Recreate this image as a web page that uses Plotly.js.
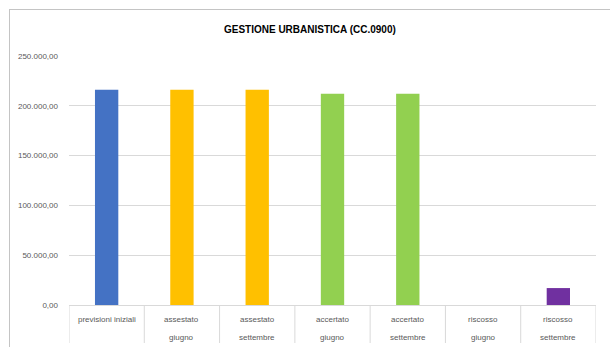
<!DOCTYPE html>
<html>
<head>
<meta charset="utf-8">
<script src="https://cdn.plot.ly/plotly-3.0.1.min.js"></script>
<style>
html,body{margin:0;padding:0;background:#fff;}
#wrap{position:relative;width:610px;height:347px;overflow:hidden;}
#frame{position:absolute;left:9px;top:9px;width:700px;height:400px;border-left:1.5px solid #c4c4c4;border-top:1.5px solid #c4c4c4;pointer-events:none;z-index:2;}
#chart{position:absolute;left:0;top:0;width:610px;height:347px;}
</style>
</head>
<body>
<div id="wrap"><div id="chart"></div><div id="frame"></div></div>
<script>
var categories = ["previsioni iniziali", "assestato giugno", "assestato settembre", "accertato giugno", "accertato settembre", "riscosso giugno", "riscosso settembre"];
var labelLine1 = ["previsioni iniziali", "assestato", "assestato", "accertato", "accertato", "riscosso", "riscosso"];
var labelLine2 = ["", "giugno", "settembre", "giugno", "settembre", "giugno", "settembre"];
var values = [216000, 216000, 216000, 212000, 212000, 0, 17000];
var colors = ["#4472C4", "#FFC000", "#FFC000", "#92D050", "#92D050", "#7030A0", "#7030A0"];
var yTicks = [0, 50000, 100000, 150000, 200000, 250000];

var trace = {
  type: "bar",
  x: categories,
  y: values,
  marker: {color: colors, line: {width: 0}},
  hoverinfo: "none"
};

var plotH = 249;
var annotations = [];
var shapes = [];
categories.forEach(function(c, i){
  annotations.push({xref:"x", yref:"paper", x:c, y:-14/plotH, text:labelLine1[i], showarrow:false, yanchor:"middle", xanchor:"center", font:{family:"Liberation Sans, Arial, sans-serif", size:8, color:"#595959"}});
  if (labelLine2[i]) annotations.push({xref:"x", yref:"paper", x:c, y:-32/plotH, text:labelLine2[i], showarrow:false, yanchor:"middle", xanchor:"center", font:{family:"Liberation Sans, Arial, sans-serif", size:8, color:"#595959"}});
});
for (var k = 0; k <= categories.length; k++) {
  shapes.push({type:"line", xref:"x", yref:"paper", x0:k-0.5, x1:k-0.5, y0:0, y1:-38/plotH, line:{color:"#d9d9d9", width:1}});
}

var layout = {
  width: 610, height: 347,
  margin: {l:69, r:14, t:56, b:42, pad:0},
  paper_bgcolor: "#ffffff", plot_bgcolor: "#ffffff",
  separators: ",.",
  showlegend: false,
  bargap: 0.69,
  title: {text: "<b>GESTIONE URBANISTICA (CC.0900)</b>", x: 0.508, xref: "container", xanchor: "center", y: 1 - 29/347, yref: "container", yanchor: "middle", font: {family: "Liberation Sans, Arial, sans-serif", size: 10, color: "#000000"}},
  xaxis: {type:"category", showticklabels:false, showgrid:false, zeroline:false, showline:true, linecolor:"#d9d9d9", linewidth:1, ticks:"", range:[-0.5, categories.length-0.5], fixedrange:true},
  yaxis: {range:[0, 250000], tickvals: yTicks, tickformat: ",.2f", showgrid:true, gridcolor:"#d9d9d9", gridwidth:1, zeroline:false, showline:false, ticks:"", ticklabelstandoff: 10, tickfont:{family:"Liberation Sans, Arial, sans-serif", size:8, color:"#595959"}, fixedrange:true},
  annotations: annotations,
  shapes: shapes
};

Plotly.newPlot("chart", [trace], layout, {displayModeBar:false, staticPlot:true});
</script>
</body>
</html>
